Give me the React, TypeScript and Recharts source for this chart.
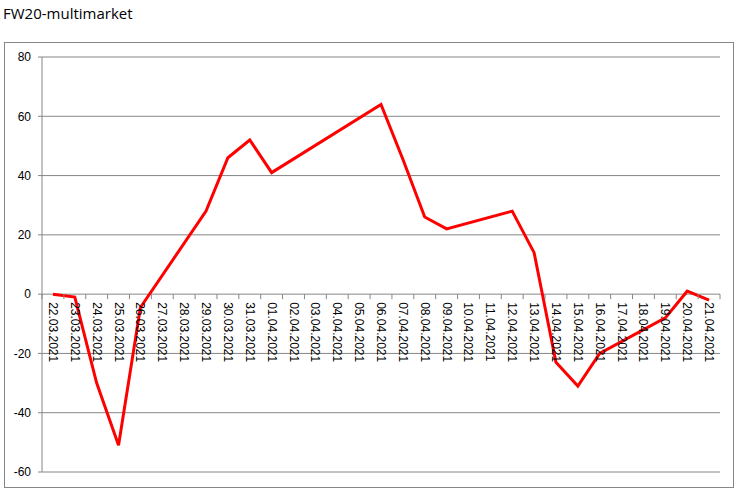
import { LineChart, Line, XAxis, YAxis, CartesianGrid } from 'recharts';

// даты (категории оси X)
const dates = [
  '22.03.2021', '23.03.2021', '24.03.2021', '25.03.2021', '26.03.2021', '27.03.2021',
  '28.03.2021', '29.03.2021', '30.03.2021', '31.03.2021', '01.04.2021', '02.04.2021',
  '03.04.2021', '04.04.2021', '05.04.2021', '06.04.2021', '07.04.2021', '08.04.2021',
  '09.04.2021', '10.04.2021', '11.04.2021', '12.04.2021', '13.04.2021', '14.04.2021',
  '15.04.2021', '16.04.2021', '17.04.2021', '18.04.2021', '19.04.2021', '20.04.2021',
  '21.04.2021',
];

// значения серии (null - нет данных, линия соединяется)
const values: (number | null)[] = [
  0, -1, -30, -51, -4.5, null, null, 28, 46, 52, 41, null, null, null, null,
  64, 45.5, 26, 22, null, null, 28, 14, -23, -31, -20, null, null, -8, 1, -2,
];

const yTicks = [-60, -40, -20, 0, 20, 40, 60, 80];

const data = dates.map((date, i) => ({ date, value: values[i] }));

const W = 737;
const H = 494;
const X_AXIS_H = 22;
const MARGIN = { top: 57, right: 17, bottom: 0, left: 0 };
const Y_AXIS_W = 42;
const Y_MIN = -60;
const Y_MAX = 80;
const PLOT_W = W - MARGIN.left - MARGIN.right - Y_AXIS_W;
const PLOT_H = H - MARGIN.top - MARGIN.bottom - X_AXIS_H;
const BAND = PLOT_W / dates.length;
// ось X пересекает ось Y в нуле
const ZERO_SHIFT = (PLOT_H * (0 - Y_MIN)) / (Y_MAX - Y_MIN);
const GRID = '#868686';
const FONT = '"Liberation Sans", Arial, sans-serif';

const XTick = (props: any) => {
  const { x, y, payload, index } = props;
  const y0 = y - ZERO_SHIFT;
  return (
    <g>
      <line x1={x - BAND / 2} x2={x - BAND / 2} y1={y0} y2={y0 + 5} stroke={GRID} />
      {index === dates.length - 1 && (
        <line x1={x + BAND / 2} x2={x + BAND / 2} y1={y0} y2={y0 + 5} stroke={GRID} />
      )}
      <text
        transform={`translate(${x},${y0 + 8}) rotate(90)`}
        textAnchor="start"
        dominantBaseline="central"
        fontSize={12}
        fontFamily={FONT}
        fill="#000"
      >
        {payload.value}
      </text>
    </g>
  );
};

const App = () => {
  return (
    <div style={{ position: 'absolute', left: 0, top: 0, width: W, height: H, background: '#fff' }}>
      <div
        style={{
          position: 'absolute',
          left: 3,
          top: 2,
          fontFamily: '"Open Sans", sans-serif',
          fontSize: 15,
          color: '#000',
          lineHeight: '22px',
        }}
      >
        FW20-multimarket
      </div>
      <div
        style={{
          position: 'absolute',
          left: 4,
          top: 42,
          width: 728,
          height: 444,
          border: `1px solid ${GRID}`,
        }}
      />
      <div style={{ position: 'absolute', left: 0, top: 0 }}>
        <LineChart width={W} height={H} data={data} margin={MARGIN}>
          <CartesianGrid vertical={false} stroke={GRID} />
          <XAxis
            dataKey="date"
            height={X_AXIS_H}
            interval={0}
            padding={{ left: BAND / 2, right: BAND / 2 }}
            axisLine={false}
            tickLine={false}
            tickSize={0}
            tickMargin={0}
            tick={<XTick />}
          />
          <YAxis
            width={Y_AXIS_W}
            domain={[Y_MIN, Y_MAX]}
            ticks={yTicks}
            interval={0}
            axisLine={{ stroke: GRID }}
            tickLine={{ stroke: GRID }}
            tickSize={4}
            tickMargin={7}
            tick={{ fontSize: 12, fontFamily: FONT, fill: '#000' }}
          />
          <Line
            type="linear"
            dataKey="value"
            stroke="#ff0000"
            strokeWidth={3}
            dot={false}
            connectNulls
            isAnimationActive={false}
          />
        </LineChart>
      </div>
    </div>
  );
};

export default App;
